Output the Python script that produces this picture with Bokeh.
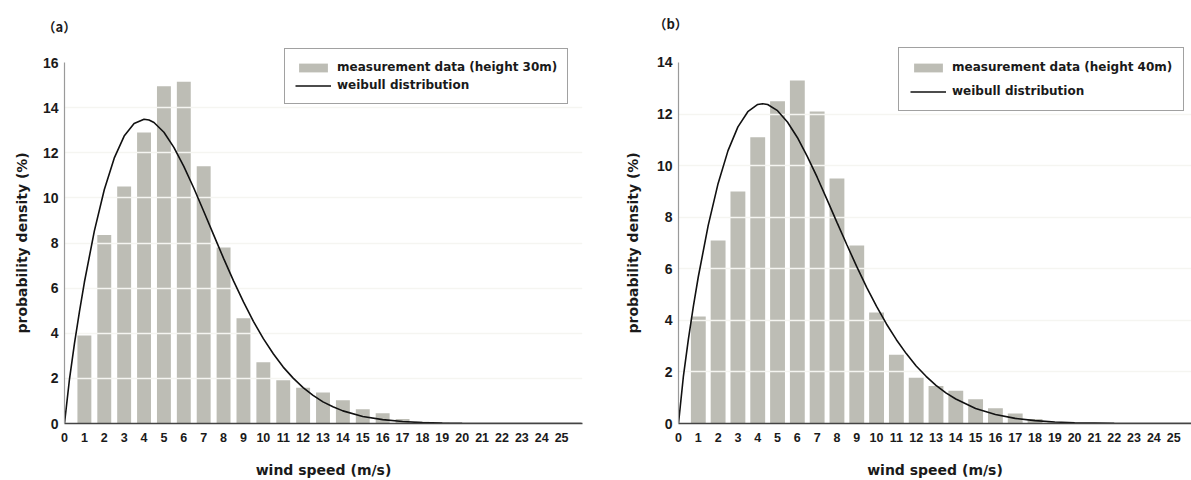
from bokeh.plotting import figure
from bokeh.layouts import row
from bokeh.models import Legend, LegendItem, Title, FixedTicker, Range1d
from bokeh.embed import file_html
from bokeh.resources import INLINE

# ---------------- data ----------------
wind_speed_bins = list(range(1, 20))
density_30m = [3.9, 8.35, 10.5, 12.9, 14.95, 15.15, 11.4, 7.8, 4.67, 2.72,
               1.92, 1.58, 1.37, 1.03, 0.63, 0.45, 0.2, 0.08, 0.03]
density_40m = [4.15, 7.1, 9.0, 11.1, 12.5, 13.3, 12.1, 9.5, 6.9, 4.3,
               2.67, 1.77, 1.45, 1.27, 0.94, 0.59, 0.39, 0.17, 0.05]

curve_x = [0, 0.25, 0.5, 0.75, 1, 1.5, 2, 2.5, 3, 3.5, 4, 4.25, 4.5, 5, 5.5, 6,
           6.5, 7, 7.5, 8, 8.5, 9, 9.5, 10, 10.5, 11, 11.5, 12, 12.5, 13, 13.5,
           14, 15, 16, 17, 18, 19, 20, 22, 26]
weibull_30m = [0, 1.96, 3.54, 4.95, 6.26, 8.53, 10.36, 11.76, 12.74, 13.30, 13.49,
               13.45, 13.34, 12.91, 12.24, 11.40, 10.44, 9.41, 8.36, 7.32, 6.32,
               5.39, 4.53, 3.76, 3.09, 2.50, 2.01, 1.59, 1.25, 0.96, 0.74, 0.56,
               0.31, 0.17, 0.09, 0.04, 0.02, 0.01, 0.0, 0.0]
weibull_40m = [0, 1.85, 3.27, 4.54, 5.69, 7.68, 9.31, 10.58, 11.50, 12.09, 12.37,
               12.40, 12.37, 12.13, 11.69, 11.09, 10.36, 9.55, 8.68, 7.80, 6.93,
               6.08, 5.28, 4.54, 3.86, 3.25, 2.71, 2.23, 1.83, 1.48, 1.19, 0.95,
               0.58, 0.35, 0.20, 0.11, 0.06, 0.03, 0.01, 0.0]

x_ticks = list(range(0, 26))
y_ticks_a = [0, 2, 4, 6, 8, 10, 12, 14, 16]
y_ticks_b = [0, 2, 4, 6, 8, 10, 12, 14]

legend_a = ["measurement data (height 30m)", "weibull distribution"]
legend_b = ["measurement data (height 40m)", "weibull distribution"]
panel_a = "（a）"
panel_b = "（b）"
x_title = "wind speed (m/s)"
y_title = "probability density (%)"

# ---------------- styling ----------------
BAR = "#bdbdb5"
GRIDW = "#f5f5f1"
TXT = "#1a1a1a"
TOP = 36         # frame top (px); y axis line itself stops at the last tick
BOTTOM_PX = 423  # x axis baseline (px from top)


def make_panel(bars_vals, curve_vals, yticks, leg_labels, letter,
               width, ml, mr, xend, bar_w, leg_loc, leg_pad, leg_spacing,
               letter_offset, letter_standoff, ytitle_standoff, px_per_unit):
    yend = (BOTTOM_PX - TOP) / px_per_unit
    p = figure(width=width, height=480,
               x_range=Range1d(0, xend), y_range=Range1d(0, yend),
               output_backend="svg", toolbar_location=None,
               min_border_left=ml, min_border_right=mr,
               min_border_top=TOP, min_border_bottom=480 - BOTTOM_PX)
    p.outline_line_color = None
    p.background_fill_color = "white"
    p.border_fill_color = "white"
    p.xgrid.visible = False
    p.ygrid.visible = False

    bars = p.vbar(x=wind_speed_bins, top=bars_vals, width=bar_w,
                  fill_color=BAR, line_color=None)
    p.hspan(y=yticks[1:-1], line_color=GRIDW, line_width=1.3)
    curve = p.line(curve_x, curve_vals, line_color="#111111", line_width=1.6)

    # axes
    p.xaxis.ticker = FixedTicker(ticks=x_ticks)
    p.yaxis.ticker = FixedTicker(ticks=yticks)
    p.yaxis.bounds = (0, yticks[-1])
    for ax in (p.xaxis, p.yaxis):
        ax.major_tick_out = 0
        ax.major_tick_in = 0
        ax.minor_tick_out = 0
        ax.minor_tick_in = 0
        ax.major_label_text_font = "Liberation Sans"
        ax.major_label_text_font_style = "bold"
        ax.major_label_text_color = TXT
        ax.axis_label_text_font = "DejaVu Sans"
        ax.axis_label_text_font_style = "bold"
        ax.axis_label_text_font_size = "14px"
        ax.axis_label_text_color = TXT
    p.xaxis.major_label_text_font_size = "12.5px"
    p.yaxis.major_label_text_font_size = "14px"
    p.xaxis.axis_line_color = "#444444"
    p.xaxis.axis_line_width = 1.5
    p.yaxis.axis_line_color = "#9a9a9a"
    p.yaxis.axis_line_width = 1.2
    p.xaxis.major_label_standoff = 9
    p.yaxis.major_label_standoff = 6
    p.xaxis.axis_label = x_title
    p.xaxis.axis_label_standoff = 17

    # y title as a side title so it can be centred on the 0..max axis span
    p.add_layout(Title(text=y_title, align="left", offset=90,
                       standoff=ytitle_standoff,
                       text_font="DejaVu Sans", text_font_style="bold",
                       text_font_size="14px", text_color=TXT), "left")

    # panel letter
    p.add_layout(Title(text=letter, align="left", offset=letter_offset,
                       standoff=letter_standoff,
                       text_font="Noto Sans CJK SC", text_font_style="bold",
                       text_font_size="13px", text_color=TXT), "above")

    legend = Legend(items=[LegendItem(label=leg_labels[0], renderers=[bars]),
                           LegendItem(label=leg_labels[1], renderers=[curve])],
                    location=leg_loc, orientation="vertical",
                    label_text_font="DejaVu Sans", label_text_font_style="bold",
                    label_text_font_size="12px", label_text_color=TXT,
                    glyph_width=36, glyph_height=11, label_height=16,
                    label_standoff=6, padding=leg_pad, spacing=leg_spacing,
                    margin=0, border_line_color="#444444", border_line_width=1,
                    background_fill_color="white", background_fill_alpha=1.0)
    p.add_layout(legend)
    return p


p1 = make_panel(density_30m, weibull_30m, y_ticks_a, legend_a, panel_a,
                width=610, ml=64, mr=28, xend=26.05, bar_w=0.7,
                leg_loc=(220, 319), leg_pad=10, leg_spacing=2,
                letter_offset=-22, letter_standoff=2, ytitle_standoff=19,
                px_per_unit=22.56)
p2 = make_panel(density_40m, weibull_40m, y_ticks_b, legend_b, panel_b,
                width=581, ml=67, mr=0, xend=25.9, bar_w=0.75,
                leg_loc=(220, 312), leg_pad=11, leg_spacing=8,
                letter_offset=-25, letter_standoff=7, ytitle_standoff=25,
                px_per_unit=25.79)

layout = row(p1, p2)
open("out.html", "w").write(file_html(layout, INLINE))
